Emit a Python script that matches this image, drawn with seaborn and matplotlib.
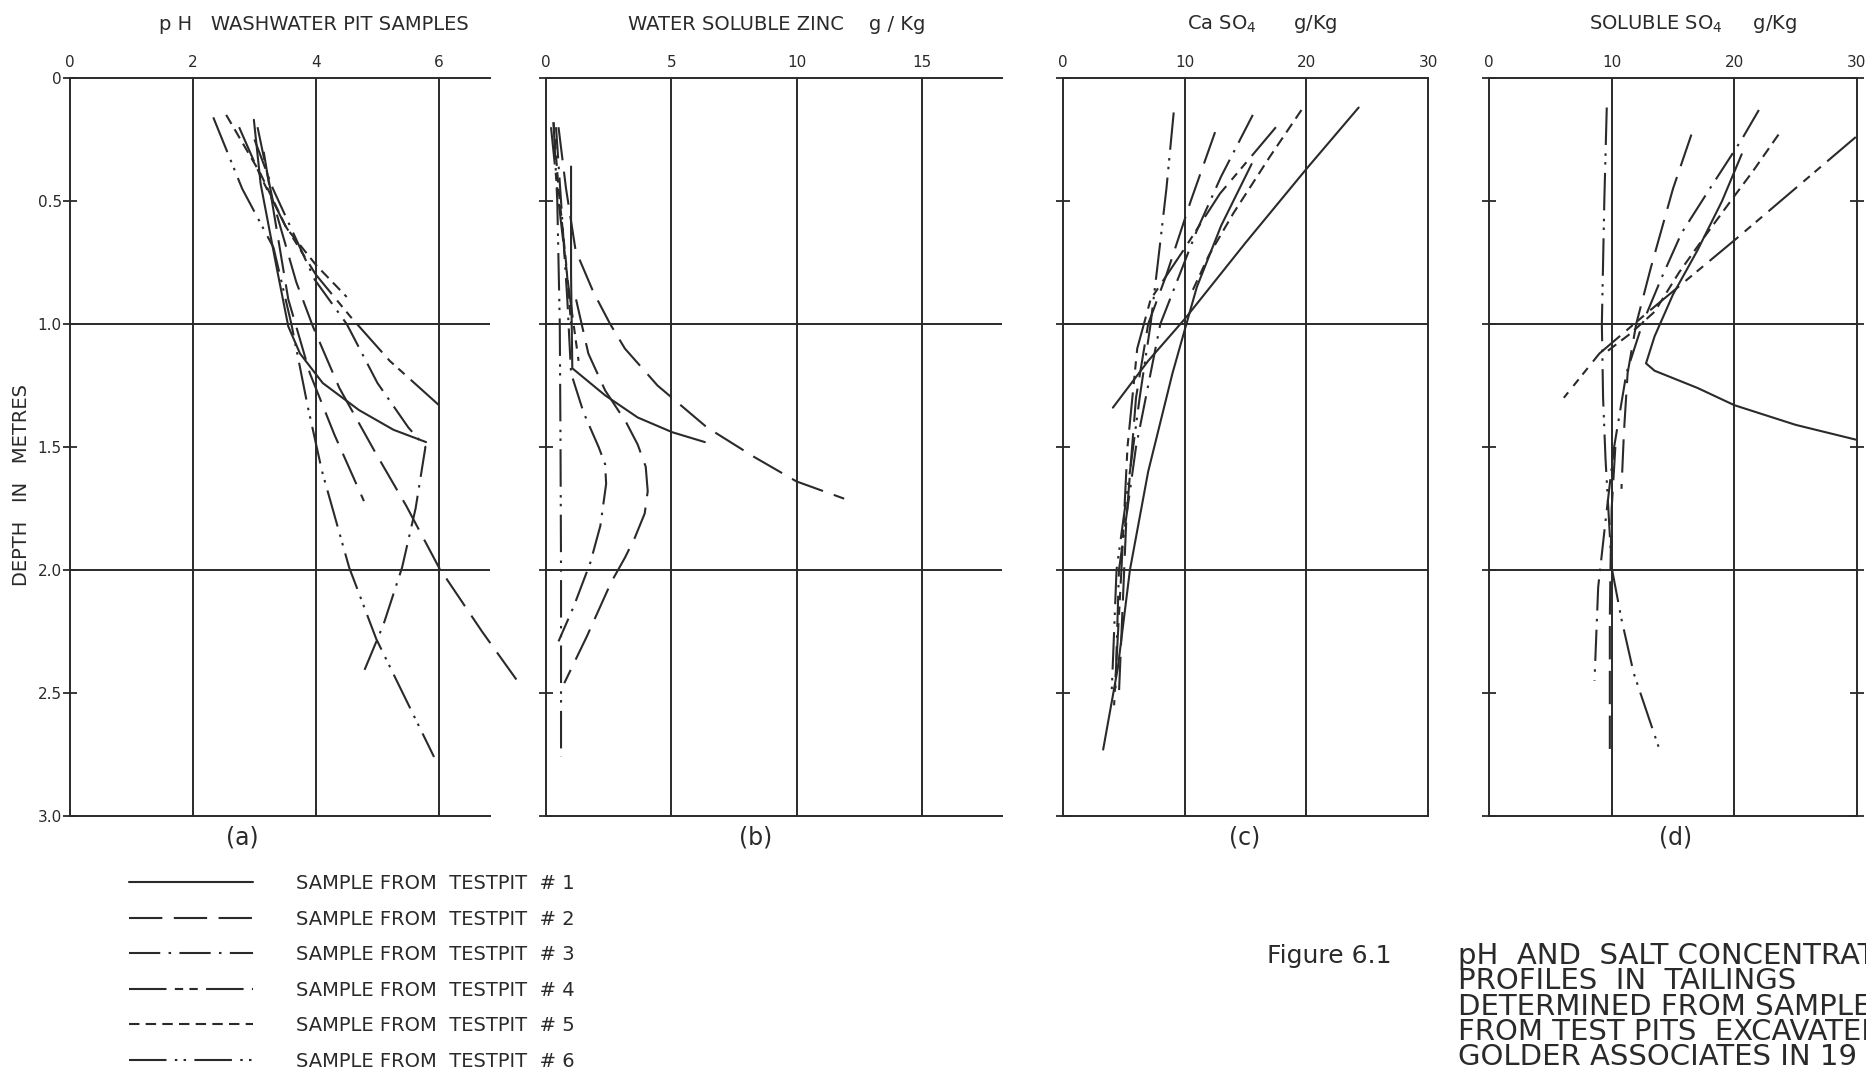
import matplotlib
matplotlib.use("Agg")
import matplotlib.pyplot as plt
from matplotlib.lines import Line2D
import pandas as pd
import seaborn as sns

sns.set_theme(style="white", context="notebook")
plt.rcParams["font.family"] = ["DejaVu Sans"]

INK = "#2a2a2a"

# ---- (a) pH, washwater pit samples -------------------------------------
ph_1_x = [2.99, 3.10, 3.36, 3.55, 3.74, 4.11, 4.70, 5.26, 5.79]
ph_1_d = [0.17, 0.43, 0.77, 1.01, 1.12, 1.24, 1.35, 1.43, 1.48]
ph_2_x = [3.05, 3.30, 3.68, 3.95, 4.38, 4.96, 5.47, 6.00, 6.70, 7.33]
ph_2_d = [0.20, 0.50, 0.83, 1.01, 1.26, 1.52, 1.74, 1.99, 2.25, 2.47]
ph_2b_x = [3.15, 3.35, 3.55, 3.90, 4.30, 4.78]
ph_2b_d = [0.30, 0.60, 0.90, 1.20, 1.45, 1.72]
ph_3_x = [3.00, 3.30, 3.98, 4.50, 5.00, 5.50, 5.78, 5.62, 5.40, 5.10, 4.75]
ph_3_d = [0.25, 0.45, 0.82, 1.00, 1.24, 1.42, 1.50, 1.75, 1.99, 2.22, 2.43]
ph_4_x = [2.75, 3.10, 3.50, 4.00, 4.56, 5.20, 5.60, 6.00]
ph_4_d = [0.20, 0.40, 0.60, 0.80, 0.97, 1.15, 1.24, 1.33]
ph_5_x = [2.54, 3.10, 3.52, 4.00, 4.50]
ph_5_d = [0.15, 0.39, 0.61, 0.76, 0.89]
ph_6_x = [2.33, 2.80, 3.31, 3.60, 3.87, 4.10, 4.54, 4.98, 5.92]
ph_6_d = [0.16, 0.45, 0.69, 1.00, 1.34, 1.60, 1.99, 2.28, 2.76]

# ---- (b) water soluble zinc, g/Kg ---------------------------------------
zn_1_x = [1.00, 1.00, 1.05, 2.36, 3.66, 5.04, 6.34]
zn_1_d = [0.36, 0.80, 1.18, 1.29, 1.38, 1.44, 1.48]
zn_2_x = [0.50, 0.80, 1.18, 1.89, 2.56, 3.15, 4.45, 6.42, 8.30, 10.0, 11.9]
zn_2_d = [0.20, 0.45, 0.70, 0.87, 1.00, 1.10, 1.25, 1.42, 1.54, 1.64, 1.71]
zn_2b_x = [1.20, 1.69, 2.36, 3.20, 3.66, 3.98, 4.06, 3.94, 3.54, 3.15, 2.60, 1.63, 0.73]
zn_2b_d = [0.90, 1.12, 1.27, 1.40, 1.49, 1.58, 1.68, 1.77, 1.87, 1.95, 2.05, 2.27, 2.46]
zn_3_x = [0.40, 0.60, 0.85, 1.00, 1.50, 2.10, 2.36, 2.40, 2.17, 1.77, 1.10, 0.50]
zn_3_d = [0.20, 0.50, 0.90, 1.20, 1.36, 1.50, 1.57, 1.65, 1.82, 1.97, 2.15, 2.29]
zn_4_x = [0.20, 0.50, 0.90, 1.30]
zn_4_d = [0.20, 0.50, 0.85, 1.15]
zn_5_x = [0.30, 0.50, 0.80, 1.00]
zn_5_d = [0.18, 0.45, 0.75, 1.00]
zn_6_x = [0.30, 0.45, 0.55, 0.58, 0.60, 0.60, 0.60]
zn_6_d = [0.18, 0.50, 1.00, 1.50, 2.00, 2.40, 2.76]

# ---- (c) CaSO4, g/Kg ------------------------------------------------------
ca_1_x = [24.3, 20.0, 15.0, 10.0, 7.0, 4.1]
ca_1_d = [0.12, 0.37, 0.67, 0.98, 1.15, 1.34]
ca_1b_x = [15.5, 13.0, 11.0, 9.0, 7.0, 5.5, 4.5, 3.3]
ca_1b_d = [0.35, 0.60, 0.85, 1.20, 1.60, 2.00, 2.40, 2.73]
ca_2_x = [12.5, 10.5, 8.5, 7.0, 6.0, 5.2, 4.6]
ca_2_d = [0.22, 0.50, 0.80, 1.00, 1.30, 1.80, 2.50]
ca_3_x = [15.6, 13.0, 11.0, 8.0, 6.0, 4.6, 4.3]
ca_3_d = [0.15, 0.40, 0.62, 1.00, 1.50, 2.00, 2.50]
ca_4_x = [17.5, 12.9, 9.9, 7.2, 6.1, 5.3, 4.8, 4.2]
ca_4_d = [0.20, 0.47, 0.70, 0.90, 1.10, 1.50, 2.00, 2.55]
ca_5_x = [19.6, 17.0, 14.0, 12.0, 10.5]
ca_5_d = [0.13, 0.32, 0.55, 0.72, 0.88]
ca_6_x = [9.1, 8.5, 7.8, 7.2, 6.3, 5.5, 4.4, 4.0]
ca_6_d = [0.14, 0.45, 0.75, 1.00, 1.30, 1.60, 2.00, 2.50]

# ---- (d) soluble SO4, g/Kg -----------------------------------------------
so_1_x = [20.6, 19.0, 17.0, 15.0, 13.5, 12.8, 13.5, 17.0, 20.0, 25.0, 29.9]
so_1_d = [0.31, 0.50, 0.70, 0.88, 1.05, 1.16, 1.19, 1.26, 1.33, 1.41, 1.47]
so_2_x = [16.5, 15.0, 13.2, 12.0, 11.3, 11.0, 10.8]
so_2_d = [0.23, 0.45, 0.77, 1.00, 1.20, 1.44, 1.67]
so_2b_x = [10.3, 10.0, 9.9, 9.85, 9.85, 9.85]
so_2b_d = [1.50, 1.75, 2.00, 2.20, 2.50, 2.77]
so_3_x = [22.0, 20.6, 18.0, 15.7, 14.0, 12.5, 11.2, 10.2, 9.5, 8.9, 8.6]
so_3_d = [0.13, 0.25, 0.45, 0.63, 0.82, 1.00, 1.20, 1.50, 1.80, 2.07, 2.45]
so_4_x = [29.9, 20.0, 13.0, 9.0, 6.1]
so_4_d = [0.24, 0.66, 0.95, 1.12, 1.30]
so_5_x = [23.6, 21.5, 20.0, 17.5, 15.5, 13.5, 11.5, 9.4]
so_5_d = [0.23, 0.38, 0.48, 0.65, 0.79, 0.95, 1.04, 1.12]
so_6_x = [9.6, 9.4, 9.2, 9.3, 9.5, 10.0, 10.8, 11.8, 13.9]
so_6_d = [0.12, 0.50, 1.00, 1.30, 1.55, 1.99, 2.20, 2.42, 2.73]

DEPTH_TICKS = [0, 0.5, 1.0, 1.5, 2.0, 2.5, 3.0]
DEPTH_LABELS = ["0", "0.5", "1.0", "1.5", "2.0", "2.5", "3.0"]
TESTPITS = ["1", "2", "3", "4", "5", "6"]

# dash patterns for each test pit (in units of line width)
DASHES = {
    "1": "",
    "2": (16, 5.5),
    "3": (15, 4, 1.2, 4),
    "4": (18, 4, 4, 3, 4, 4),
    "5": (5, 3),
    "6": (18, 4, 1.2, 3, 1.2, 4),
}

panels = [
    {
        "curves": [("1", ph_1_x, ph_1_d), ("2", ph_2_x, ph_2_d), ("2", ph_2b_x, ph_2b_d),
                   ("3", ph_3_x, ph_3_d), ("4", ph_4_x, ph_4_d), ("5", ph_5_x, ph_5_d),
                   ("6", ph_6_x, ph_6_d)],
        "xmax": 6.83, "xticks": [0, 2, 4, 6], "right_ticks": False, "ylabels": True,
        "title": "p H   WASHWATER PIT SAMPLES", "tx": 0.1683, "tag": "(a)", "lx": 0.1297,
        "rect": [70, 490],
    },
    {
        "curves": [("1", zn_1_x, zn_1_d), ("2", zn_2_x, zn_2_d), ("2", zn_2b_x, zn_2b_d),
                   ("3", zn_3_x, zn_3_d), ("4", zn_4_x, zn_4_d), ("5", zn_5_x, zn_5_d),
                   ("6", zn_6_x, zn_6_d)],
        "xmax": 18.2, "xticks": [0, 5, 10, 15], "right_ticks": False, "ylabels": False,
        "title": "WATER SOLUBLE ZINC    g / Kg", "tx": 0.4164, "tag": "(b)", "lx": 0.4051,
        "rect": [546, 1002],
    },
    {
        "curves": [("1", ca_1_x, ca_1_d), ("1", ca_1b_x, ca_1b_d), ("2", ca_2_x, ca_2_d),
                   ("3", ca_3_x, ca_3_d), ("4", ca_4_x, ca_4_d), ("5", ca_5_x, ca_5_d),
                   ("6", ca_6_x, ca_6_d)],
        "xmax": 30, "xticks": [0, 10, 20, 30], "right_ticks": False, "ylabels": False,
        "title": "Ca SO$_4$      g/Kg", "tx": 0.6763, "tag": "(c)", "lx": 0.6672,
        "rect": [1063, 1428],
    },
    {
        "curves": [("1", so_1_x, so_1_d), ("2", so_2_x, so_2_d), ("2", so_2b_x, so_2b_d),
                   ("3", so_3_x, so_3_d), ("4", so_4_x, so_4_d), ("5", so_5_x, so_5_d),
                   ("6", so_6_x, so_6_d)],
        "xmax": 30, "xticks": [0, 10, 20, 30], "right_ticks": True, "ylabels": False,
        "title": "SOLUBLE SO$_4$     g/Kg", "tx": 0.9073, "tag": "(d)", "lx": 0.8982,
        "rect": [1489, 1857],
    },
]

W, H = 1866, 1072
fig = plt.figure(figsize=(W / 100, H / 100), dpi=100)
fig.patch.set_facecolor("white")

top, bottom = 78, 816
for p in panels:
    left, right = p["rect"]
    ax = fig.add_axes([left / W, 1 - bottom / H, (right - left) / W, (bottom - top) / H])
    ax.set_facecolor("white")

    rows = []
    for i, (tp, xs, ds) in enumerate(p["curves"]):
        for x, d in zip(xs, ds):
            rows.append({"value": x, "depth": d, "testpit": tp, "curve": i})
    df = pd.DataFrame(rows)

    sns.lineplot(data=df, x="value", y="depth", units="curve", style="testpit",
                 style_order=TESTPITS, dashes=DASHES, estimator=None, sort=False,
                 color=INK, linewidth=1.5, legend=False, ax=ax)
    for ln in ax.lines:
        ln.set_clip_on(False)

    ax.set_xlim(0, p["xmax"])
    ax.set_ylim(3.0, 0)
    ax.set_xlabel("")
    ax.set_ylabel("")

    # grid drawn as on the drafting sheet
    for t in p["xticks"][1:]:
        ax.axvline(t, color=INK, lw=1.4, clip_on=False, zorder=1)
    for d in (1.0, 2.0):
        ax.axhline(d, color=INK, lw=1.4, zorder=1)

    ax.xaxis.tick_top()
    ax.set_xticks(p["xticks"])
    ax.set_xticklabels([str(t) for t in p["xticks"]])
    ax.tick_params(axis="x", length=0, pad=6, labelsize=11, labelcolor=INK)
    ax.set_yticks(DEPTH_TICKS)
    ax.set_yticklabels(DEPTH_LABELS if p["ylabels"] else [])
    ax.tick_params(axis="y", left=True, right=p["right_ticks"], direction="inout",
                   length=10, width=1.3, color=INK, pad=1, labelsize=11, labelcolor=INK)

    for side in ("top", "bottom", "left"):
        ax.spines[side].set_visible(True)
        ax.spines[side].set_color(INK)
        ax.spines[side].set_linewidth(1.4)
    ax.spines["right"].set_visible(False)

    fig.text(p["tx"], 0.9776, p["title"], ha="center", va="center",
             fontsize=14, color=INK)
    fig.text(p["lx"], 0.2183, p["tag"], ha="center", va="center",
             fontsize=17, color=INK)

fig.text(0.0113, 0.5476, "DEPTH   IN   METRES", rotation=90, ha="center",
         va="center", fontsize=14, color=INK)

handles = [Line2D([], [], color=INK, lw=1.5, dashes=DASHES[tp]) for tp in TESTPITS]
labels = [f"SAMPLE FROM  TESTPIT  # {tp}" for tp in TESTPITS]
fig.legend(handles, labels, loc="upper left", bbox_to_anchor=(129 / W, 1 - 874 / H),
           frameon=False, borderpad=0, borderaxespad=0, handlelength=6.4,
           handletextpad=2.2, labelspacing=0.85, fontsize=14, labelcolor=INK)

# caption block runs off the right edge of the sheet, as in the scan
fig.text(1267 / W, 1 - 956 / H, "Figure 6.1", ha="left", va="center",
         fontsize=18, color=INK)
fig.text(1458 / W, 1 - 942 / H,
         "pH  AND  SALT CONCENTRATION\n"
         "PROFILES  IN  TAILINGS\n"
         "DETERMINED FROM SAMPLES\n"
         "FROM TEST PITS  EXCAVATED BY\n"
         "GOLDER ASSOCIATES IN 19",
         ha="left", va="top", fontsize=21, linespacing=0.88, color=INK)

fig.savefig("out.png", dpi=100, facecolor="white")
